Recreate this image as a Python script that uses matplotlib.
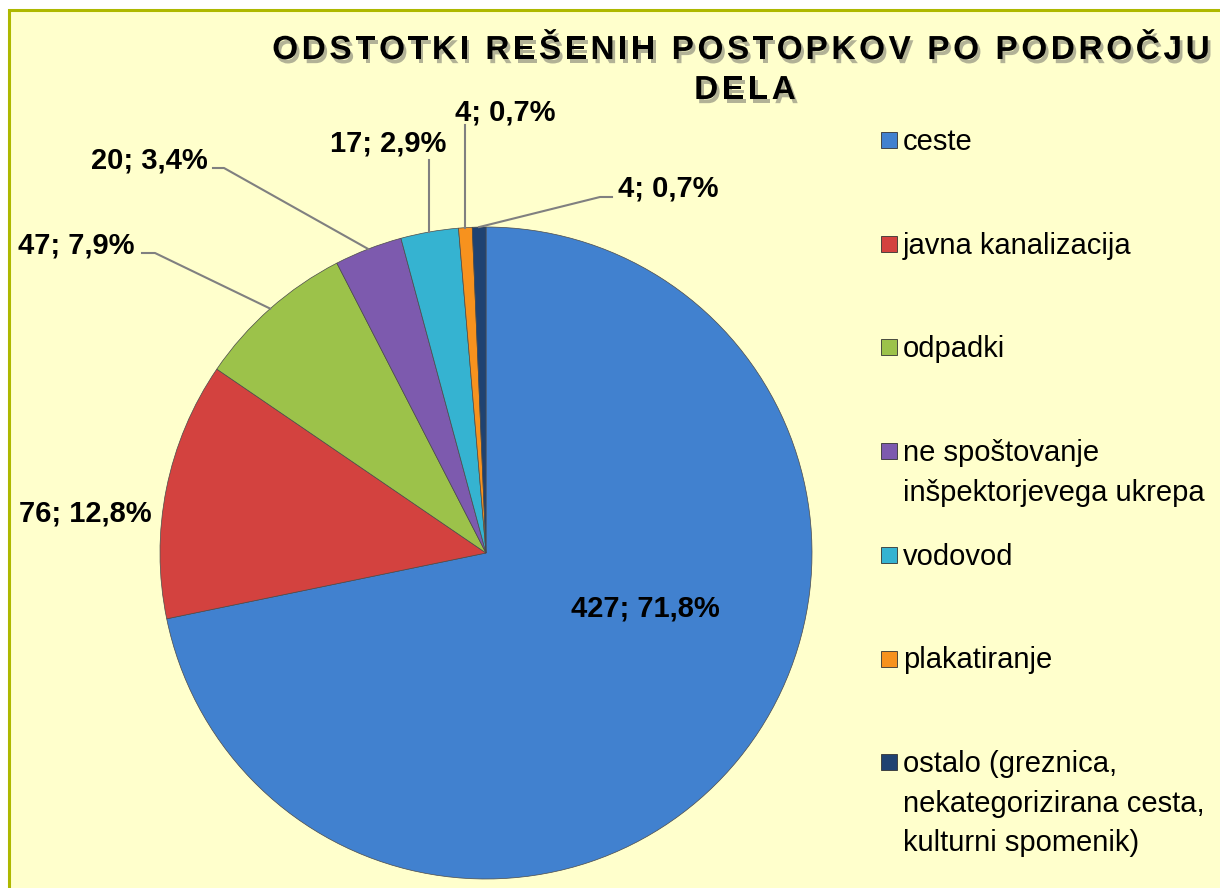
import matplotlib
matplotlib.use("Agg")
import matplotlib.pyplot as plt
import matplotlib.patheffects as pe
from matplotlib.patches import Rectangle
import numpy as np

plt.rcParams['font.family'] = ['Liberation Sans', 'DejaVu Sans']

categories = ['ceste', 'javna kanalizacija', 'odpadki',
              'ne spoštovanje\ninšpektorjevega ukrepa', 'vodovod',
              'plakatiranje',
              'ostalo (greznica,\nnekategorizirana cesta,\nkulturni spomenik)']
counts = [427, 76, 47, 20, 17, 4, 4]
percents = ['71,8%', '12,8%', '7,9%', '3,4%', '2,9%', '0,7%', '0,7%']
colors = ['#4181CF', '#D3423F', '#9CC24A', '#7D5AAE', '#35B3D1', '#F7921E', '#1F4271']
title_lines = ['ODSTOTKI REŠENIH POSTOPKOV PO PODROČJU', 'DELA']

W, H = 1220, 888
fig = plt.figure(figsize=(W / 100, H / 100), dpi=100)
fig.patch.set_facecolor('white')

# yellow chart area with olive frame (only top/left visible)
fig.patches.append(Rectangle((9 / W, -0.02), 1.05, (H - 10) / H + 0.02,
                             transform=fig.transFigure, facecolor='#FFFFCC',
                             edgecolor='#AEB800', linewidth=2.2, zorder=-5))

# axes covering the whole figure, 1 data unit = pie radius (326 px)
R = 326.0
cx, cy = 486.0, 553.0
ax = fig.add_axes([0, 0, 1, 1])
ax.set_zorder(1)
ax.patch.set_alpha(0)
wedges, _ = ax.pie(counts, colors=colors, startangle=90, counterclock=False,
                   radius=1.0,
                   wedgeprops=dict(edgecolor='#4a4a4a', linewidth=0.5))
ax.set_aspect('auto')
ax.set_xlim(-cx / R, (W - cx) / R)
ax.set_ylim((cy - H) / R, cy / R)
ax.axis('off')

def px(x, y):
    return (x - cx) / R, (cy - y) / R

lab_kw = dict(fontsize=21, fontweight='bold', color='black', zorder=5)
texts = [f'{c}; {p}' for c, p in zip(counts, percents)]

# label anchors (pixel space) and leader elbows
label_pos = [(645, 608, 'center'), (85, 513, 'center'), (76, 245, 'center'),
             (149, 160, 'center'), (388, 143, 'center'), (505, 112, 'center'),
             (618, 188, 'left')]
elbows = [None, None, [(155, 253), (142, 253)], [(224, 168), (213, 168)],
          'vert160', 'vert125', [(600, 197), (612, 197)]]

for i, (w, t) in enumerate(zip(wedges, texts)):
    lx, ly, ha = label_pos[i]
    x, y = px(lx, ly)
    ax.text(x, y, t, ha=ha, va='center', **lab_kw)
    mid = np.deg2rad((w.theta1 + w.theta2) / 2)
    ex, ey = np.cos(mid), np.sin(mid)
    el = elbows[i]
    if el is None:
        continue
    if isinstance(el, str):
        top = (cy - float(el[4:])) / R
        ax.plot([ex, ex], [ey, top], color='#808080', lw=1.5, zorder=4)
    else:
        pts = [px(*p) for p in el]
        xs = [ex] + [p[0] for p in pts]
        ys = [ey] + [p[1] for p in pts]
        ax.plot(xs, ys, color='#808080', lw=1.5, zorder=4)

# legend drawn by hand so the square sits beside the first line
leg_y0, leg_step = 140.0, 103.7
for i, (lab, col) in enumerate(zip(categories, colors)):
    yc = leg_y0 + i * leg_step
    fig.patches.append(Rectangle((881 / W, (H - yc - 8) / H), 16 / W, 16 / H,
                                 transform=fig.transFigure, facecolor=col,
                                 edgecolor='#333333', linewidth=0.6, zorder=3))
    fig.text(903 / W, (H - yc + 12) / H, lab, ha='left', va='top',
             fontsize=21, color='black', linespacing=1.52)

# title with letter spacing
title_kw = dict(fontsize=24, fontweight='bold', color='black',
                path_effects=[pe.withSimplePatchShadow(offset=(2, -3),
                                                       shadow_rgbFace='#555555',
                                                       alpha=0.45)])
renderer = fig.canvas.get_renderer()

def width(s):
    t = fig.text(0, 0, s + '|', fontsize=24, fontweight='bold')
    wd = t.get_window_extent(renderer).width
    t.remove()
    return wd

def spaced_title(s, xc, base_y, track):
    w0 = width('')
    offs = [width(s[:k]) - w0 for k in range(len(s) + 1)]
    total = offs[-1] + track * (len(s) - 1)
    x0 = xc - total / 2
    for k, ch in enumerate(s):
        if ch == ' ':
            continue
        fig.text((x0 + offs[k] + k * track) / W, (H - base_y) / H, ch,
                 ha='left', va='baseline', **title_kw)

spaced_title(title_lines[0], 741, 59, 3.6)
spaced_title(title_lines[1], 745, 99, 3.6)

fig.savefig('out.png', dpi=100, facecolor=fig.get_facecolor())
plt.close(fig)
